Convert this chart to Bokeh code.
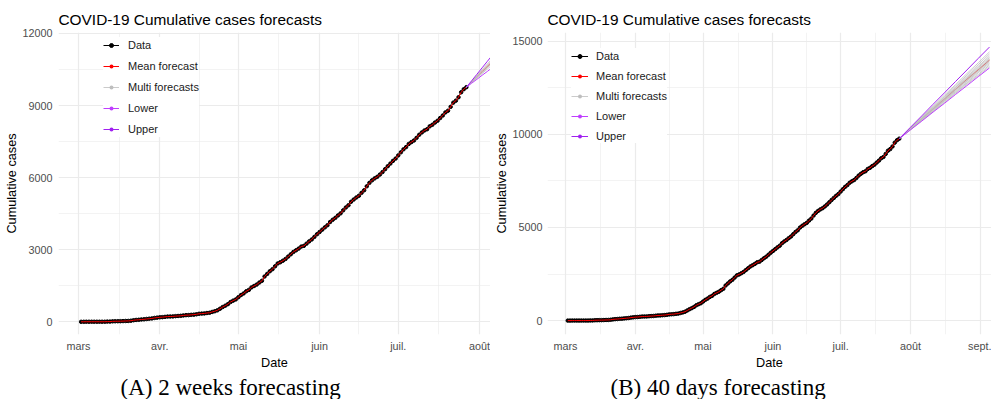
import pandas as pd
from bokeh.plotting import figure
from bokeh.models import Range1d, FixedTicker, Legend, LegendItem, Title
from bokeh.layouts import row
from bokeh.embed import file_html
from bokeh.resources import INLINE

# ---------------- data ----------------
data_start = "2020-03-02"
cases = [
    1, 2, 4, 4, 4, 4, 4, 4, 4, 4, 10, 10, 21, 24, 26, 27, 31, 36, 38, 47, 67, 79, 86, 99, 105, 119, 130, 142, 162, 175,
    190, 195, 207, 219, 222, 226, 237, 244, 250, 265, 278, 280, 291, 299, 314, 335, 342, 350, 367, 377, 412, 442, 479,
    545, 614, 671, 736, 823, 882, 933,
    1024, 1115, 1182, 1271, 1329, 1433, 1492, 1551, 1634, 1709, 1886, 1995, 2105, 2189, 2310, 2429, 2480, 2544, 2617,
    2714, 2812, 2909, 2976, 3047, 3130, 3161, 3253, 3348, 3429, 3535, 3645,
    3739, 3836, 3932, 4021, 4155, 4249, 4328, 4427, 4515, 4640, 4759, 4851, 4996, 5090, 5173, 5247, 5369, 5475, 5639,
    5783, 5888, 5970, 6034, 6129, 6233, 6354, 6476, 6586, 6698, 6793,
    6925, 7054, 7178, 7272, 7400, 7478, 7547, 7657, 7784, 7882, 7964, 8014, 8135, 8198, 8291, 8369, 8481, 8588, 8715,
    8786, 8948, 9121, 9205, 9345, 9552, 9681, 9764,
]

month_ticks = ["2020-03-01", "2020-04-01", "2020-05-01", "2020-06-01", "2020-07-01", "2020-08-01", "2020-09-01"]
month_labels = ["mars", "avr.", "mai", "juin", "juil.", "août", "sept."]

# Panel A: 2 weeks forecast, values every 2 days after last observation
fcA_step = 2
fcA_mean = [9980, 10200, 10410, 10630, 10850, 11060, 11280]
fcA_lower = [9930, 10090, 10260, 10420, 10590, 10750, 10920]
fcA_upper = [10030, 10300, 10570, 10840, 11110, 11380, 11650]
fcA_multi = [
    [9950, 10140, 10330, 10520, 10710, 10900, 11090],
    [9970, 10180, 10380, 10590, 10790, 11000, 11200],
    [9990, 10200, 10420, 10630, 10850, 11060, 11280],
    [10000, 10230, 10460, 10680, 10910, 11140, 11360],
    [10010, 10250, 10490, 10730, 10970, 11210, 11450],
    [9960, 10170, 10370, 10580, 10780, 10990, 11190],
]

# Panel B: 40 days forecast, values every 5 days after last observation
fcB_step = 5
fcB_mean = [10300, 10830, 11360, 11890, 12420, 12950, 13460, 13980]
fcB_lower = [10240, 10710, 11190, 11660, 12140, 12610, 13090, 13560]
fcB_upper = [10380, 10990, 11610, 12220, 12840, 13450, 14070, 14680]
fcB_multi = [
    [10250, 10730, 11230, 11700, 12200, 12680, 13150, 13640],
    [10270, 10760, 11240, 11760, 12240, 12740, 13210, 13720],
    [10250, 10780, 11280, 11800, 12290, 12780, 13300, 13800],
    [10290, 10790, 11310, 11820, 12340, 12850, 13360, 13870],
    [10280, 10800, 11330, 11840, 12380, 12890, 13410, 13930],
    [10300, 10820, 11360, 11880, 12410, 12940, 13470, 13990],
    [10310, 10840, 11370, 11920, 12440, 12990, 13510, 14050],
    [10290, 10860, 11400, 11940, 12500, 13030, 13580, 14120],
    [10330, 10870, 11430, 11990, 12530, 13090, 13640, 14200],
    [10320, 10900, 11460, 12030, 12600, 13170, 13730, 14310],
    [10350, 10930, 11510, 12100, 12670, 13260, 13830, 14420],
]

yA_major = [0, 3000, 6000, 9000, 12000]
yB_major = [0, 5000, 10000, 15000]

TITLE = "COVID-19 Cumulative cases forecasts"
CAP_A = "(A) 2 weeks forecasting"
CAP_B = "(B) 40 days forecasting"
SANS = "Liberation Sans"
DAY = 86400000.0


def ms(ts):
    return pd.Timestamp(ts).value / 1e6


def mids(v):
    return [(a + b) / 2 for a, b in zip(v[:-1], v[1:])]


def panel(caption, step, f_mean, f_lower, f_upper, f_multi, x_lo, x_hi, y_lo, y_hi, y_major,
          width, height, b_left, b_right, b_top, b_bottom, leg_loc, item_h, glyph_w, lbl_stand,
          cap_offset, ylab_stand, ytick_stand, title_standoff):
    dates = pd.date_range(data_start, periods=len(cases), freq="D")
    x = [d.value / 1e6 for d in dates]
    x0 = x[-1]
    y0 = cases[-1]
    fx = [x0] + [x0 + step * (k + 1) * DAY for k in range(len(f_mean))]

    mar1 = ms(month_ticks[0])
    p = figure(width=width, height=height, output_backend="svg", toolbar_location=None,
               x_axis_type="datetime",
               x_range=Range1d(mar1 + x_lo * DAY, mar1 + x_hi * DAY),
               y_range=Range1d(y_lo, y_hi),
               min_border_left=b_left, min_border_right=b_right,
               min_border_top=b_top, min_border_bottom=b_bottom)
    p.outline_line_color = None
    p.background_fill_color = "white"
    p.border_fill_color = "white"

    tx = [ms(t) for t in month_ticks]
    p.xaxis.ticker = FixedTicker(ticks=tx, minor_ticks=mids(tx))
    p.xaxis.major_label_overrides = {int(t): l for t, l in zip(tx, month_labels)}
    p.yaxis.ticker = FixedTicker(ticks=y_major, minor_ticks=mids(y_major))

    for ax in (p.xaxis[0], p.yaxis[0]):
        ax.axis_line_color = None
        ax.major_tick_line_color = None
        ax.minor_tick_line_color = None
        ax.major_tick_out = 0
        ax.major_tick_in = 0
        ax.minor_tick_out = 0
        ax.major_label_text_font = SANS
        ax.major_label_text_font_size = "10.8px"
        ax.major_label_text_color = "#4d4d4d"
        ax.axis_label_text_font = SANS
        ax.axis_label_text_font_size = "12.7px"
        ax.axis_label_text_font_style = "normal"
        ax.axis_label_text_color = "#000000"
    p.xaxis.axis_label = "Date"
    p.yaxis.axis_label = "Cumulative cases"
    p.xaxis.major_label_standoff = 5
    p.yaxis.major_label_standoff = ytick_stand
    p.xaxis.axis_label_standoff = 1
    p.yaxis.axis_label_standoff = ylab_stand

    for g in (p.xgrid[0], p.ygrid[0]):
        g.grid_line_color = "#ebebeb"
        g.grid_line_width = 1.2
        g.minor_grid_line_color = "#ebebeb"
        g.minor_grid_line_width = 0.6

    p.title.text = TITLE
    p.title.text_font = SANS
    p.title.text_font_size = "15.4px"
    p.title.text_font_style = "normal"
    p.title.text_color = "#000000"
    p.title.align = "left"
    p.title.vertical_align = "middle"
    p.title.standoff = title_standoff

    # data
    r_dl = p.line(x, cases, line_color="black", line_width=1)
    r_dp = p.scatter(x, cases, size=3.5, color="black")
    # mean (fitted + forecast)
    r_ml = p.line(x + fx[1:], cases + f_mean, line_color="red", line_width=1)
    r_mp = p.scatter(fx[1:], f_mean, size=0, fill_color="red", line_color=None)
    # multi forecasts
    r_gl = p.multi_line([fx] * len(f_multi), [[y0] + m for m in f_multi], line_color="#bebebe", line_width=0.8)
    r_gp = p.scatter(fx[1:], f_multi[0], size=0, fill_color="#bebebe", line_color=None)
    # lower / upper
    r_ll = p.line(fx, [y0] + f_lower, line_color="#bf3eff", line_width=1)
    r_lp = p.scatter(fx[1:], f_lower, size=0, fill_color="#bf3eff", line_color=None)
    r_ul = p.line(fx, [y0] + f_upper, line_color="#a020f0", line_width=1)
    r_up = p.scatter(fx[1:], f_upper, size=0, fill_color="#a020f0", line_color=None)

    legend = Legend(items=[
        LegendItem(label="Data", renderers=[r_dl, r_dp]),
        LegendItem(label="Mean forecast", renderers=[r_ml, r_mp]),
        LegendItem(label="Multi forecasts", renderers=[r_gl, r_gp]),
        LegendItem(label="Lower", renderers=[r_ll, r_lp]),
        LegendItem(label="Upper", renderers=[r_ul, r_up]),
    ], location=leg_loc)
    legend.label_text_font = SANS
    legend.label_text_font_size = "11px"
    legend.label_text_color = "#1a1a1a"
    legend.glyph_width = glyph_w
    legend.glyph_height = 10
    legend.label_height = item_h
    legend.label_standoff = lbl_stand
    legend.spacing = 5
    legend.padding = 4
    legend.margin = 0
    legend.border_line_color = None
    legend.background_fill_color = "white"
    legend.background_fill_alpha = 1.0
    p.add_layout(legend)

    p.add_layout(Title(text=caption, text_font="Liberation Serif", text_font_size="23px",
                       text_font_style="normal", text_color="#000000", align="left",
                       offset=cap_offset, standoff=0), "below")
    return p


pA = panel(CAP_A, fcA_step, fcA_mean, fcA_lower, fcA_upper, fcA_multi,
           -7.63, 157.2, -527, 12040, yA_major,
           490, 399, 58, 0, 28, 61, (45, 197), 16, 16, 9, 62, 0, 6, 8)
pB = panel(CAP_B, fcB_step, fcB_mean, fcB_lower, fcB_upper, fcB_multi,
           -7.98, 188.9, -744, 15462, yB_major,
           501, 399, 57, 0, 32, 62, (24, 191), 15, 17, 8, 63, 0, 5, 8)

layout = row(pA, pB)
open("out.html", "w").write(file_html(layout, INLINE))
